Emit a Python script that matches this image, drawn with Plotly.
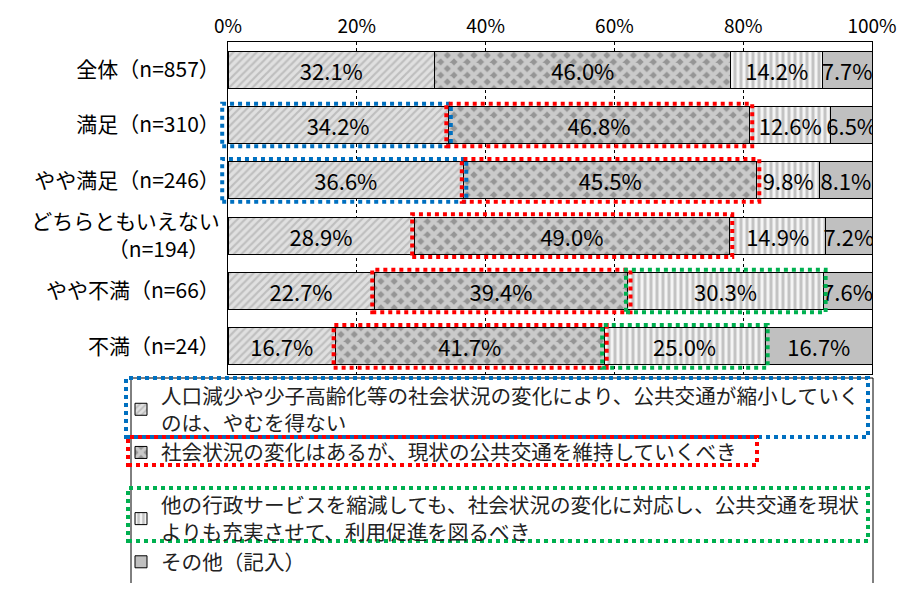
import plotly.graph_objects as go

categories = ["全体（n=857）", "満足（n=310）", "やや満足（n=246）",
              "どちらともいえない<br>（n=194）\u3000", "やや不満（n=66）", "不満（n=24）"]
series_names = [
    "人口減少や少子高齢化等の社会状況の変化により、公共交通が縮小していく<br>のは、やむを得ない",
    "社会状況の変化はあるが、現状の公共交通を維持していくべき",
    "他の行政サービスを縮減しても、社会状況の変化に対応し、公共交通を現状<br>よりも充実させて、利用促進を図るべき",
    "その他（記入）",
]
s1 = [32.1, 34.2, 36.6, 28.9, 22.7, 16.7]
s2 = [46.0, 46.8, 45.5, 49.0, 39.4, 41.7]
s3 = [14.2, 12.6, 9.8, 14.9, 30.3, 25.0]
s4 = [7.7, 6.5, 8.1, 7.2, 7.6, 16.7]
tick_vals = [0, 20, 40, 60, 80, 100]
tick_labels = ["0%", "20%", "40%", "60%", "80%", "100%"]

# dotted highlight flags per category
highlight_blue = [False, True, True, False, False, False]   # series 1
highlight_red = [False, True, True, True, True, True]       # series 2
highlight_green = [False, False, False, False, True, True]  # series 3

FONT = "Noto Sans CJK JP"
OFF = 8  # page body margin
W, H = 909 - OFF, 591 - 2 * OFF
L, T = 228 - OFF, 42 - OFF
R = W - (872 - OFF)
B = H - (374 - OFF)
pw, ph = W - L - R, H - T - B

ypos = list(range(len(categories)))
series = [s1, s2, s3, s4]
patterns = [
    dict(shape="/", fgcolor="#9c9c9c", bgcolor="#e0e0e0", size=5.5, solidity=0.4),
    dict(shape="x", fgcolor="#ffffff", bgcolor="#959595", size=9.4, solidity=0.7),
    dict(shape="|", fgcolor="#929292", bgcolor="#f4f4f4", size=6, solidity=0.5),
    dict(shape=""),
]
colors = ["#e0e0e0", "#959595", "#f4f4f4", "#c0c0c0"]
groups = ["a", "a", "b", "b"]

fig = go.Figure()
for name, vals, pat, col, g in zip(series_names, series, patterns, colors, groups):
    fig.add_trace(go.Bar(
        y=ypos, x=vals, name=name, orientation="h", width=0.67, legendgroup=g,
        marker=dict(color=col, pattern=pat, line=dict(color="#000", width=1)),
        texttemplate="%{x:.1f}%", textposition="inside", insidetextanchor="middle",
        textangle=0, textfont=dict(family=FONT, size=22, color="#000"),
        hoverinfo="skip",
    ))

# dotted highlight boxes around segments (domain fractions of the 0-100 axes)
nrow = len(categories)
cum = [[0.0] * nrow]
for vals in series:
    cum.append([c + v for c, v in zip(cum[-1], vals)])
for si, flags, colr in [(0, highlight_blue, "#0070C0"), (1, highlight_red, "#FF0000"),
                        (2, highlight_green, "#00B050")]:
    for i, f in enumerate(flags):
        if f:
            x0 = cum[si][i]
            x1 = cum[si + 1][i]
            fig.add_shape(type="rect", xref="x domain", yref="y domain",
                          x0=(x0 - (0.9 if x0 == 0 else 0.3)) / 100, x1=(x1 + 0.4) / 100,
                          y0=1 - (i + 0.5 + 0.385) / nrow, y1=1 - (i + 0.5 - 0.385) / nrow,
                          line=dict(color=colr, width=4, dash="dot"), layer="above")

def px(x):
    return (x - 228) / pw

def py(y):
    return (374 - y) / ph

# legend frame
fig.add_shape(type="rect", xref="paper", yref="paper", x0=px(131), x1=px(873),
              y0=py(640), y1=py(378), line=dict(color="#000", width=1), layer="below")
# dotted boxes in legend
for (x0, x1, y0, y1, c) in [(126, 868, 378, 437, "#0070C0"),
                            (128, 757, 437, 465, "#FF0000"),
                            (128, 868, 488, 541, "#00B050")]:
    fig.add_shape(type="rect", xref="paper", yref="paper", x0=px(x0), x1=px(x1),
                  y0=py(y1), y1=py(y0), line=dict(color=c, width=4, dash="dot"))

fig.update_layout(
    width=W, height=H, barmode="stack",
    margin=dict(l=L, r=R, t=T, b=B, autoexpand=False),
    paper_bgcolor="#fff", plot_bgcolor="#fff",
    font=dict(family=FONT, color="#000"),
    showlegend=True,
    legend=dict(x=px(121), y=py(376), xanchor="left", yanchor="top",
                font=dict(family=FONT, size=20.6, color="#222"),
                bgcolor="rgba(0,0,0,0)", borderwidth=0, traceorder="grouped",
                tracegroupgap=23, itemclick=False, itemdoubleclick=False),
    uniformtext=dict(minsize=22, mode="show"),
    xaxis=dict(range=[0, 100], side="top", tickvals=tick_vals, ticktext=tick_labels,
               tickfont=dict(family=FONT, size=19, color="#000"),
               showgrid=True, gridcolor="#000", gridwidth=1, griddash="dot",
               zeroline=False, showline=True, mirror=True, linecolor="#000",
               linewidth=1, ticks="", fixedrange=True),
    yaxis=dict(range=[nrow - 0.5, -0.5], tickvals=ypos, ticktext=categories,
               tickfont=dict(family=FONT, size=21, color="#000"),
               showgrid=False, zeroline=False, showline=True, mirror=True,
               linecolor="#000", linewidth=1, ticks="", ticklabelstandoff=3,
               fixedrange=True),
)

fig.write_html("out.html")
